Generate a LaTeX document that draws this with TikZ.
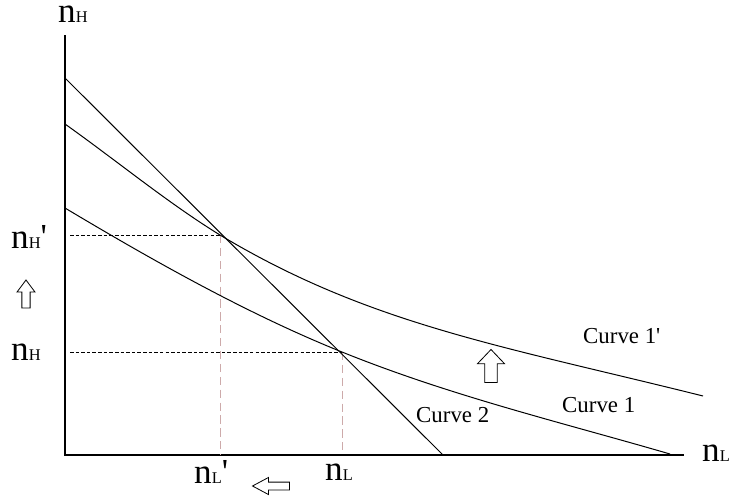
\documentclass[tikz,border=0pt]{standalone}
\usepackage{fontspec}
\setmainfont{Liberation Serif}[Ligatures=TeXOff]
\usetikzlibrary{positioning}
\definecolor{guideGray}{RGB}{205,170,170}
\newcommand{\nvar}[1]{n{\fontsize{14}{15}\selectfont #1}}

\tikzset{
  hollow arrow/.pic={
    \draw[line width=0.7pt,fill=white] (0,-0.5) -- (0.5,-0.07) -- (0.23,-0.07)
      -- (0.23,0.5) -- (-0.23,0.5) -- (-0.23,-0.07) -- (-0.5,-0.07) -- cycle;
  }
}

\begin{document}
\begin{tikzpicture}[
  x=0.03cm,y=-0.03cm,
  axis/.style={line width=0.9pt},
  curve/.style={line width=0.85pt},
  guide/.style={dash pattern=on 3pt off 1.8pt,line width=0.6pt},
  drop/.style={guideGray,dash pattern=on 7pt off 4pt,line width=0.7pt},
  lab/.style={font=\fontsize{30}{32}\selectfont,inner sep=0pt,anchor=base west},
  tag/.style={font=\fontsize{19.5}{22}\selectfont,inner sep=0pt,anchor=base west}
]
  \useasboundingbox (0,0) rectangle (729,500);

  \coordinate (origin) at (65,455);
  \coordinate (ytop) at (65,35);
  \coordinate (xend) at (684,455);
  \coordinate (eqNew) at (220,235);
  \coordinate (eqOld) at (342,352);
  \coordinate (hNew) at (70,235);
  \coordinate (hOld) at (70,352);
  \coordinate (lNew) at (220,455);
  \coordinate (lOld) at (342,455);

  \draw[axis] (ytop) -- (origin) -- (xend);

  \draw[guide] (hNew) -- (eqNew);
  \draw[guide] (hOld) -- (eqOld);
  \draw[drop] (eqNew) -- (lNew);
  \draw[drop] (eqOld) -- (lOld);

  \draw[curve] (65,78) -- (443,455);
  \draw[curve] (65,124) .. controls (117,161) and (168,203) .. (eqNew)
    .. controls (370,325) and (503,346) .. (703,396);
  \draw[curve] (65,208) .. controls (157,263) and (250,315) .. (eqOld)
    .. controls (451,396) and (560,422) .. (670,454);

  \node[lab] (nHtop) at (58,22) {\nvar{H}};
  \node[lab] (nHnew) at (11,248) {\nvar{H}'};
  \node[lab] (nHold) at (11,360) {\nvar{H}};
  \node[lab] (nLnew) at (194,483) {\nvar{L}'};
  \node[lab] (nLold) at (325,480) {\nvar{L}};
  \node[lab] (nLaxis) at (702,461) {\nvar{L}};

  \node[tag] (curveOneNew) at (583,343) {Curve 1'};
  \node[tag] (curveOne) at (562,412) {Curve 1};
  \node[tag] (curveTwo) at (416,422) {Curve 2};

  \pic[xscale=18,yscale=28] at (26,294) {hollow arrow};
  \pic[xscale=27,yscale=33] at (491,366) {hollow arrow};
  \pic[rotate=90,xscale=17,yscale=37] at (271,486) {hollow arrow};
\end{tikzpicture}
\end{document}
